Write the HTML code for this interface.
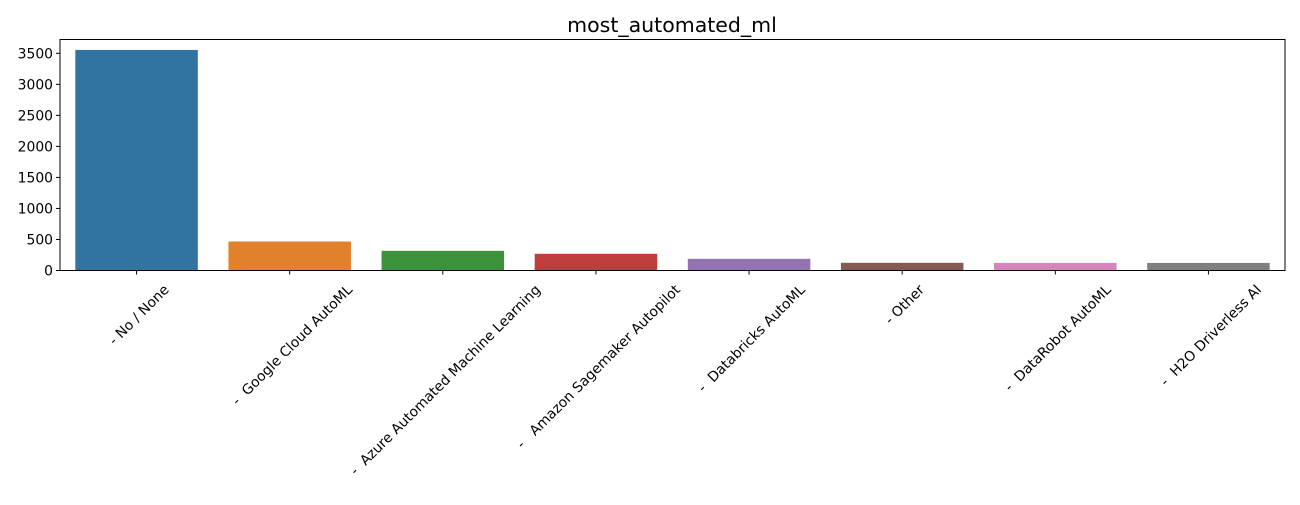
<!DOCTYPE html>
<html><head><meta charset="utf-8"><style>
body{margin:0;background:#fff}
svg text{font-family:"DejaVu Sans","Liberation Sans",sans-serif;fill:#000}
</style></head><body>
<svg id="chart" width="1300" height="500" xmlns="http://www.w3.org/2000/svg">
<text x="672" y="32" font-size="20.5" text-anchor="middle">most_automated_ml</text>
<g id="plot"></g>
</svg>
<script>
const categories = [" - No / None"," -  Google Cloud AutoML"," -  Azure Automated Machine Learning"," -   Amazon Sagemaker Autopilot"," -  Databricks AutoML"," - Other"," -  DataRobot AutoML"," -  H2O Driverless AI"];
const values = [3554, 467, 317, 269, 188, 124, 122, 122];
const colors = ["#3274a1","#e1812c","#3a923a","#c03d3e","#9372b2","#845b53","#d684bd","#7f7f7f"];
const yTicks = [0,500,1000,1500,2000,2500,3000,3500];

const L=60,R=1285,T=39.5,B=270.5;
const ymax=3500*(B-T)/217.2;
const ns="http://www.w3.org/2000/svg";
const g=document.getElementById('plot');
function y(v){return B-(v/ymax)*(B-T);}
const step=(R-L)/categories.length;
function x(i){return L+step*(i+0.5);}
function mk(t,a){const e=document.createElementNS(ns,t);for(const k in a)e.setAttribute(k,a[k]);g.appendChild(e);return e;}
values.forEach((v,i)=>{
  const r=mk('rect',{x:x(i)-step*0.4,y:y(v),width:step*0.8,height:B-y(v),fill:colors[i]});
  
  
});
yTicks.forEach(t=>{
  const l=mk('line',{x1:L-4,x2:L,y1:y(t),y2:y(t),stroke:'#000','stroke-width':1});
  
  
  const tx=mk('text',{x:L-7,y:y(t)+5,'font-size':13.9,'text-anchor':'end'});
  tx.textContent=t;
  
  
});
categories.forEach((c,i)=>{
  const l=mk('line',{x1:x(i),x2:x(i),y1:B,y2:B+4,stroke:'#000','stroke-width':1});
  
  
  const tx=mk('text',{'font-size':13.9,'text-anchor':'end','xml:space':'preserve'});
  tx.style.whiteSpace='pre';
  tx.textContent=c;
  
  
  const len=tx.getComputedTextLength();
  const px=x(i)+len*0.354+4, py=B+20;
  tx.setAttribute('transform','translate('+px+','+py+') rotate(-45)');
});
const frame=mk('rect',{x:L,y:T,width:R-L,height:B-T,fill:'none',stroke:'#000','stroke-width':1});


</script>
</body></html>
